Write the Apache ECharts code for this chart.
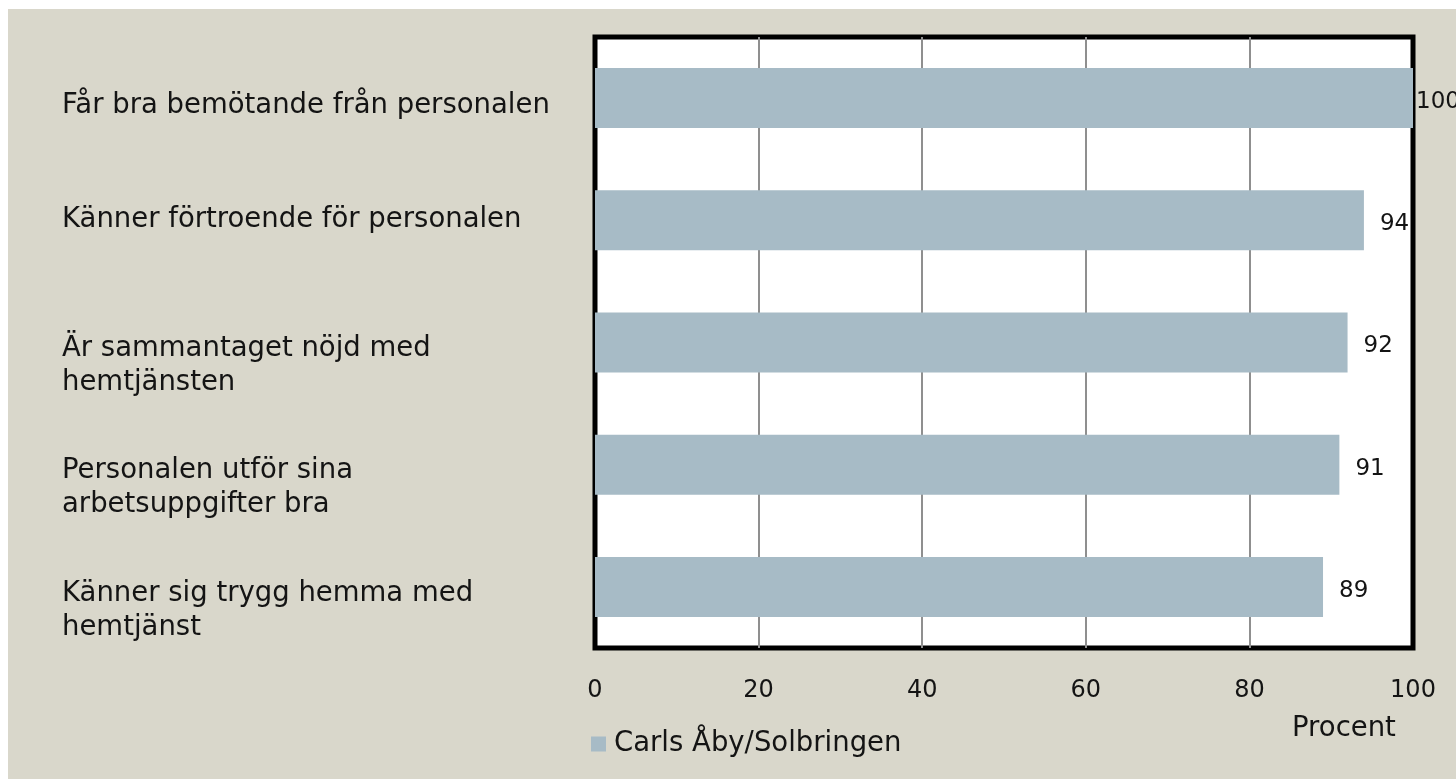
<!DOCTYPE html>
<html>
<head>
<meta charset="utf-8">
<script src="https://cdn.jsdelivr.net/npm/echarts@6/dist/echarts.min.js"></script>
<style>
html,body{margin:0;padding:0;background:#ffffff;width:1456px;height:779px;overflow:hidden;}
#chart{position:absolute;left:8px;top:9px;width:1448px;height:770px;}
</style>
</head>
<body>
<div id="chart"></div>
<script>
const categories = [
  "Får bra bemötande från personalen",
  "Känner förtroende för personalen",
  "Är sammantaget nöjd med\nhemtjänsten",
  "Personalen utför sina\narbetsuppgifter bra",
  "Känner sig trygg hemma med\nhemtjänst"
];
const seriesName = "Carls Åby/Solbringen";
const values = [100, 94, 92, 91, 89];
const xTicks = [0, 20, 40, 60, 80, 100];
const axisTitle = "Procent";

const FONT = "DejaVu Sans";
const TEXT = "#141414";
// style only: an invisible spacer line pushes labels down a little (as in the original layout)
const spacerKey = c => c.indexOf('\n') >= 0 ? 'big' : (c.startsWith('Får') ? 'small' : null);

const chart = echarts.init(document.getElementById('chart'));
chart.setOption({
  backgroundColor: '#D9D7CB',
  animation: false,
  textStyle: { fontFamily: FONT, color: TEXT },
  grid: {
    left: 587, top: 28, right: 43, bottom: 131,
    show: true, backgroundColor: '#ffffff', borderColor: '#000000', borderWidth: 5,
    containLabel: false, outerBoundsMode: 'none'
  },
  legend: {
    left: 578, top: 716, icon: 'rect', itemWidth: 15, itemHeight: 15, itemGap: 8,
    textStyle: { fontFamily: FONT, fontSize: 27.5, color: TEXT, padding: [0, 0, 0, 3] },
    data: [seriesName]
  },
  graphic: [{
    type: 'text', left: 1284, top: 706,
    style: { text: axisTitle, font: '27.5px "DejaVu Sans"', fill: TEXT }
  }],
  xAxis: {
    type: 'value', min: xTicks[0], max: xTicks[xTicks.length - 1], interval: 20,
    axisLine: { show: false }, axisTick: { show: false },
    splitLine: { show: true, showMinLine: false, showMaxLine: false, lineStyle: { color: '#8f8f8f', width: 2 } },
    axisLabel: { margin: 31, fontSize: 24, fontFamily: FONT, color: TEXT,
      formatter: v => xTicks.includes(v) ? String(v) : '' }
  },
  yAxis: {
    type: 'category', inverse: true, data: categories,
    axisLine: { show: false }, axisTick: { show: false },
    axisLabel: {
      align: 'left', margin: 533, fontSize: 27.5, lineHeight: 34, fontFamily: FONT, color: TEXT,
      formatter: c => {
        const k = spacerKey(c);
        return k ? '{' + k + '| }\n' + c : c;
      },
      rich: {
        big: { fontSize: 2, lineHeight: 47 },
        small: { fontSize: 2, lineHeight: 16 }
      }
    }
  },
  series: [{
    name: seriesName, type: 'bar', barWidth: 60, z: 1,
    itemStyle: { color: '#A7BBC6' },
    data: values.map(v => ({
      value: v,
      label: { distance: v >= 100 ? 3 : 16 }
    })),
    label: { show: true, position: 'right', offset: [0, 4], fontSize: 23, fontFamily: FONT, color: TEXT }
  }]
});
</script>
</body>
</html>
